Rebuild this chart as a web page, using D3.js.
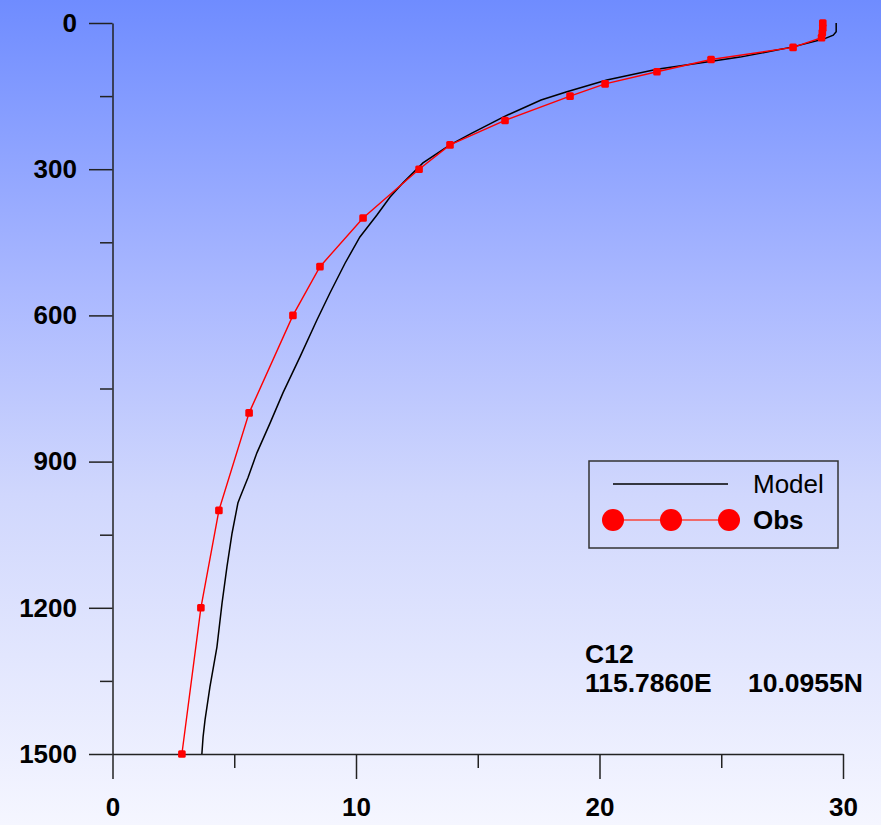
<!DOCTYPE html>
<html>
<head>
<meta charset="utf-8">
<script src="https://cdn.jsdelivr.net/npm/d3@7"></script>
<style>
  html, body { margin: 0; padding: 0; }
  svg { display: block; font-family: "Liberation Sans", Arial, sans-serif; }
</style>
</head>
<body>
<svg id="chart" width="881" height="825"></svg>
<script>
// temperature profile, depth in m (down), temperature on x
const xTicks = [0, 10, 20, 30];
const xMinor = [5, 15, 25];
const yTicks = [0, 300, 600, 900, 1200, 1500];
const yMinor = [150, 450, 750, 1050, 1350];

const modelDepth = [0, 18, 25, 33, 49, 70, 80, 95, 117, 141, 158, 193, 226, 250, 287, 328, 357, 394, 439, 493,
  554, 609, 685, 759, 821, 882, 932, 973, 985, 1047, 1116, 1190, 1280, 1363, 1430, 1465, 1500];
const modelTemp = [29.72, 29.72, 29.6, 29.2, 27.95, 25.77, 24.4, 22.36, 20.3, 18.66, 17.6, 16.04, 14.76, 13.86, 12.75, 11.93, 11.4, 10.86, 10.16, 9.55,
  8.93, 8.4, 7.7, 7.0, 6.47, 5.93, 5.57, 5.24, 5.15, 4.91, 4.7, 4.5, 4.29, 4.0, 3.8, 3.72, 3.67];

const obsDepth = [0, 10, 20, 30, 50, 75, 100, 125, 150, 200, 250, 300, 400, 500, 600, 800, 1000, 1200, 1500];
const obsTemp = [29.17, 29.17, 29.15, 29.12, 27.95, 24.58, 22.36, 20.23, 18.79, 16.12, 13.86, 12.59, 10.29, 8.52, 7.41, 5.61, 4.37, 3.63, 2.85];

const stationLines = ["C12", "115.7860E", "10.0955N"];

const svg = d3.select("#chart");

// background wash
const grad = svg.append("defs").append("linearGradient")
  .attr("id", "bg").attr("x1", 0).attr("y1", 0).attr("x2", 0).attr("y2", 1);
[[0, "#6f8cff"], [0.35, "#aab8ff"], [0.6, "#d0d7fd"], [1, "#f5f6ff"]].forEach(s =>
  grad.append("stop").attr("offset", s[0]).attr("stop-color", s[1]));
svg.append("rect").attr("width", 881).attr("height", 825).attr("fill", "url(#bg)");

const x = d3.scaleLinear().domain([0, 30]).range([112.5, 843]);
const y = d3.scaleLinear().domain([0, 1500]).range([23, 754]);

// axes
svg.append("g").attr("transform", "translate(112.5,0)")
  .call(d3.axisLeft(y).tickValues(yTicks).tickFormat(d3.format("d"))
    .tickSize(23.5).tickSizeOuter(0).tickPadding(12));
svg.append("g").attr("transform", "translate(112.5,0)")
  .call(d3.axisLeft(y).tickValues(yMinor).tickSize(12.5).tickFormat(""))
  .call(g => g.select(".domain").remove());

svg.append("g").attr("transform", "translate(0,754)")
  .call(d3.axisBottom(x).tickValues(xTicks).tickFormat(d3.format("d"))
    .tickSize(25).tickSizeOuter(0).tickPadding(19));
svg.append("g").attr("transform", "translate(0,754)")
  .call(d3.axisBottom(x).tickValues(xMinor).tickSize(14).tickFormat(""))
  .call(g => g.select(".domain").remove());

svg.selectAll(".domain, .tick line").attr("stroke", "#222").attr("stroke-width", 1.5);
svg.selectAll(".tick text").attr("fill", "#000").attr("font-size", 26).attr("font-weight", "bold")
  .attr("font-family", "Liberation Sans, Arial, sans-serif");

// model profile
const line = d3.line().x(d => x(d[1])).y(d => y(d[0]));
const model = modelDepth.map((d, i) => [d, modelTemp[i]]);
const obs = obsDepth.map((d, i) => [d, obsTemp[i]]);

svg.append("path").datum(model).attr("d", line)
  .attr("fill", "none").attr("stroke", "#000").attr("stroke-width", 1.5);

// observations
svg.append("path").datum(obs).attr("d", line)
  .attr("fill", "none").attr("stroke", "#ff0000").attr("stroke-width", 1.4);
svg.append("g").selectAll("rect").data(obs).join("rect")
  .attr("x", d => x(d[1]) - 3.8).attr("y", d => y(d[0]) - 3.8)
  .attr("width", 7.6).attr("height", 7.6).attr("rx", 1.5)
  .attr("fill", "#ff0000");

// legend
const lg = svg.append("g");
lg.append("rect").attr("x", 589).attr("y", 461).attr("width", 249).attr("height", 87)
  .attr("fill", "none").attr("stroke", "#333").attr("stroke-width", 1.5);
lg.append("line").attr("x1", 613).attr("x2", 728).attr("y1", 484).attr("y2", 484)
  .attr("stroke", "#000").attr("stroke-width", 1.4);
lg.append("text").attr("x", 753).attr("y", 493).attr("font-size", 26).text("Model");
lg.append("line").attr("x1", 613).attr("x2", 729).attr("y1", 520).attr("y2", 520)
  .attr("stroke", "#f06a6a").attr("stroke-width", 2);
lg.selectAll("circle").data([613, 671, 729]).join("circle")
  .attr("cx", d => d).attr("cy", 520).attr("r", 11).attr("fill", "#ff0000");
lg.append("text").attr("x", 753).attr("y", 529).attr("font-size", 26).attr("font-weight", "bold").text("Obs");

// station label
const st = svg.append("g").attr("font-size", 26.5).attr("font-weight", "bold");
st.append("text").attr("x", 585).attr("y", 663).text(stationLines[0]);
st.append("text").attr("x", 585).attr("y", 692).text(stationLines[1]);
st.append("text").attr("x", 748).attr("y", 692).text(stationLines[2]);
</script>
</body>
</html>
